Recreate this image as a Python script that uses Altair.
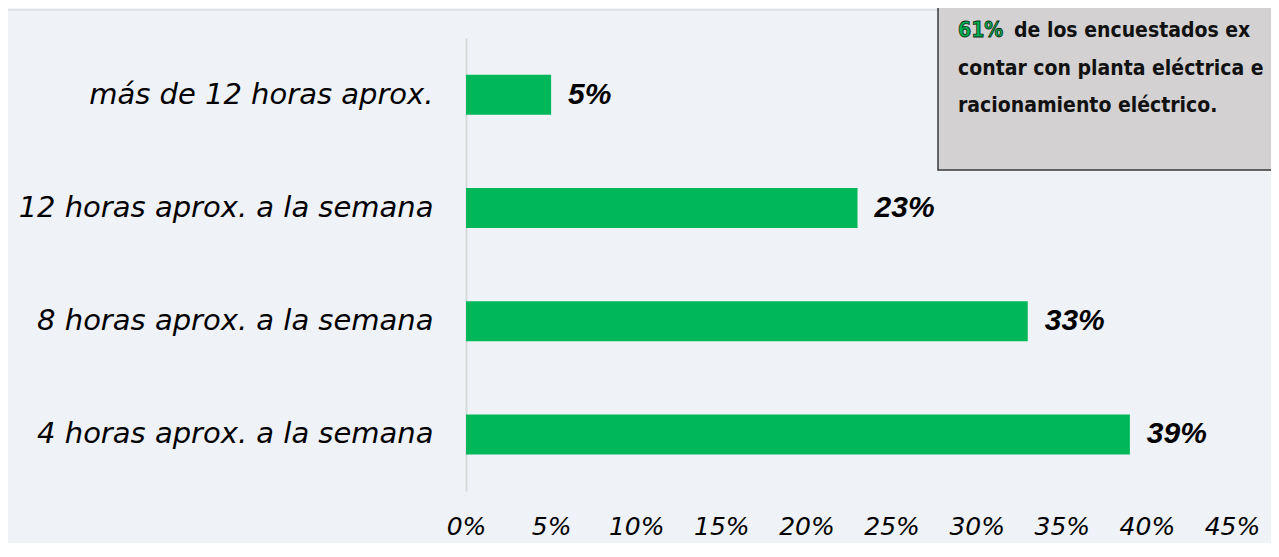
import altair as alt
import pandas as pd

categories = [
    "más de 12 horas aprox.",
    "12 horas aprox. a la semana",
    "8 horas aprox. a la semana",
    "4 horas aprox. a la semana",
]
values = [5, 23, 33, 39]
value_labels = ["5%", "23%", "33%", "39%"]
x_ticks = [0, 5, 10, 15, 20, 25, 30, 35, 40, 45]

note_highlight = "61%"
note_lines = [
    "de los encuestados ex",
    "contar con planta eléctrica e",
    "racionamiento eléctrico.",
]

df = pd.DataFrame({"cat": categories, "val": values, "label": value_labels})
one = pd.DataFrame({"a": [0]})

W, H = 766, 453
GREEN = "#00B85A"
LABEL_FONT = "DejaVu Sans"
NOTE_FONT = "DejaVu Sans Condensed, sans-serif"
NOTE_SIZE = 21

base = alt.Chart(df)

bars = base.mark_bar(color=GREEN, size=40).encode(
    x=alt.X(
        "val:Q",
        scale=alt.Scale(domain=[0, 45], nice=False),
        axis=alt.Axis(
            values=x_ticks,
            labelExpr="datum.value + '%'",
            title=None,
            domain=False,
            ticks=False,
            grid=False,
            labelFlush=False,
            labelFont=LABEL_FONT,
            labelFontStyle="italic",
            labelFontSize=25,
            labelColor="#000000",
            labelPadding=23,
        ),
    ),
    y=alt.Y(
        "cat:N",
        sort=categories,
        scale=alt.Scale(paddingInner=0, paddingOuter=0),
        axis=alt.Axis(
            title=None,
            ticks=False,
            domain=True,
            domainColor="#D9D9D9",
            domainWidth=2,
            grid=False,
            labelFont=LABEL_FONT,
            labelFontStyle="italic",
            labelFontSize=29,
            labelColor="#000000",
            labelPadding=33,
            labelLimit=500,
        ),
    ),
)

texts = base.mark_text(
    align="left",
    baseline="middle",
    dx=17,
    font="Liberation Sans",
    fontStyle="italic",
    fontWeight="bold",
    fontSize=30,
    color="#000000",
).encode(
    x="val:Q",
    y=alt.Y("cat:N", sort=categories),
    text="label:N",
)

top_rule = alt.Chart(one).mark_rule(color="#E2E4E8", strokeWidth=2).encode(
    x=alt.value(-458), x2=alt.value(805), y=alt.value(-28)
)

note_box = alt.Chart(one).mark_rect(
    fill="#D3D1D2", stroke="#3A3A3A", strokeWidth=1.5
).encode(
    x=alt.value(472), x2=alt.value(830), y=alt.value(-60), y2=alt.value(132)
)

note_hl = alt.Chart(one).mark_text(
    align="left", baseline="alphabetic", font=NOTE_FONT, fontWeight="bold",
    fontSize=NOTE_SIZE, fill="#00B050", stroke="#0B2E14", strokeWidth=0.8,
).encode(x=alt.value(492), y=alt.value(-1), text=alt.value(note_highlight))

note_l1 = alt.Chart(one).mark_text(
    align="left", baseline="alphabetic", font=NOTE_FONT, fontWeight="bold",
    fontSize=NOTE_SIZE, color="#111111",
).encode(x=alt.value(548), y=alt.value(-1), text=alt.value(note_lines[0]))

note_l2 = alt.Chart(one).mark_text(
    align="left", baseline="alphabetic", font=NOTE_FONT, fontWeight="bold",
    fontSize=NOTE_SIZE, color="#111111",
).encode(x=alt.value(492), y=alt.value(37), text=alt.value(note_lines[1]))

note_l3 = alt.Chart(one).mark_text(
    align="left", baseline="alphabetic", font=NOTE_FONT, fontWeight="bold",
    fontSize=NOTE_SIZE, color="#111111",
).encode(x=alt.value(492), y=alt.value(74), text=alt.value(note_lines[2]))

chart = alt.layer(
    top_rule, bars, texts, note_box, note_hl, note_l1, note_l2, note_l3
).properties(
    width=W,
    height=H,
    autosize=alt.AutoSizeParams(type="none"),
    padding={"left": 458, "top": 30, "right": 39, "bottom": 52},
    background="#EFF2F6",
).configure_view(stroke=None)

chart.save("out.html", embed_options={"renderer": "svg", "actions": False})
